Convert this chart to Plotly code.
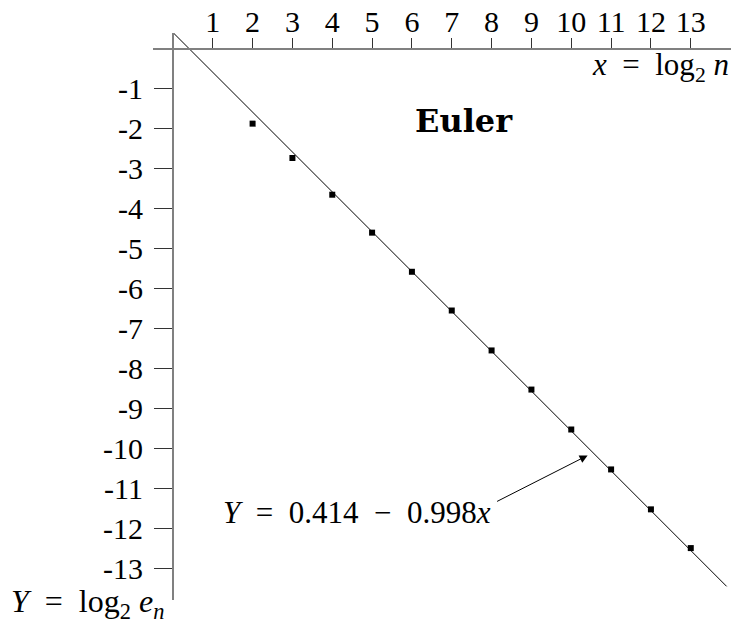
import plotly.graph_objects as go

# Data
log2_n = [2, 3, 4, 5, 6, 7, 8, 9, 10, 11, 12, 13]
log2_err = [-1.87, -2.73, -3.65, -4.60, -5.58, -6.55, -7.55, -8.53, -9.53, -10.53, -11.53, -12.50]

fit_intercept = 0.414
fit_slope = -0.998
fit_x = [0, 13.9]
fit_y = [fit_intercept + fit_slope * v for v in fit_x]

x_ticks = list(range(1, 14))
y_ticks = list(range(-1, -14, -1))
y_ticktext = ["-%d" % abs(v) for v in y_ticks]

X_RANGE = [-0.5, 14.01]
Y_RANGE = [-13.8, 0.40]

FONT = "Liberation Serif"
FS = 30

fig = go.Figure()
fig.add_trace(go.Scatter(x=fit_x, y=fit_y, mode="lines",
                         line=dict(color="black", width=1), hoverinfo="skip"))
fig.add_trace(go.Scatter(x=log2_n, y=log2_err, mode="markers",
                         marker=dict(symbol="square", size=6, color="black")))

xpos = (0 - Y_RANGE[0]) / (Y_RANGE[1] - Y_RANGE[0])
ypos = (0 - X_RANGE[0]) / (X_RANGE[1] - X_RANGE[0])

fig.update_layout(
    width=740, height=626,
    margin=dict(l=145, r=17, t=25, b=34),
    plot_bgcolor="white", paper_bgcolor="white",
    showlegend=False,
    font=dict(family=FONT, size=FS, color="black"),
    xaxis=dict(range=X_RANGE, tickvals=x_ticks, ticktext=[str(v) for v in x_ticks],
               side="top", anchor="free", position=xpos,
               showline=True, linecolor="#808080", linewidth=2,
               ticks="outside", ticklen=10, tickwidth=1, tickcolor="#333",
               ticklabelstandoff=-6,
               showgrid=False, zeroline=False, automargin=False,
               tickfont=dict(family=FONT, size=FS)),
    yaxis=dict(range=Y_RANGE, tickvals=y_ticks, ticktext=y_ticktext,
               side="left", anchor="free", position=ypos,
               showline=True, linecolor="#808080", linewidth=2,
               ticks="outside", ticklen=18, tickwidth=1, tickcolor="#333",
               ticklabelstandoff=5,
               showgrid=False, zeroline=False, automargin=False,
               tickfont=dict(family=FONT, size=FS)),
)

fig.add_annotation(x=1.0, y=0.940, xref="paper", yref="paper", showarrow=False,
                   xanchor="right", yanchor="middle",
                   text="<i>x</i>&nbsp; = &nbsp;log<sub>2</sub> <i>n</i>",
                   font=dict(family=FONT, size=31))
fig.add_annotation(x=0.0225, y=-0.007, xref="paper", yref="paper", showarrow=False,
                   xanchor="right", yanchor="middle",
                   text="<i>Y</i>&nbsp; = &nbsp;log<sub>2</sub> <i>e<sub>n</sub></i>",
                   font=dict(family=FONT, size=32))
fig.add_annotation(x=7.3, y=-1.8, xref="x", yref="y", showarrow=False,
                   text="<b>Euler</b>", font=dict(family="DejaVu Serif", size=32))
fig.add_annotation(x=4.61, y=-11.6, xref="x", yref="y", showarrow=False,
                   text="<i>Y</i>&nbsp; = &nbsp;0.414 &nbsp;− &nbsp;0.998<i>x</i>",
                   font=dict(family=FONT, size=31))
fig.add_annotation(x=10.41, y=-10.18, ax=8.10, ay=-11.35,
                   xref="x", yref="y", axref="x", ayref="y",
                   text="", showarrow=True, arrowhead=2, arrowsize=1.6,
                   arrowwidth=1, arrowcolor="black")

fig.write_html("out.html")
